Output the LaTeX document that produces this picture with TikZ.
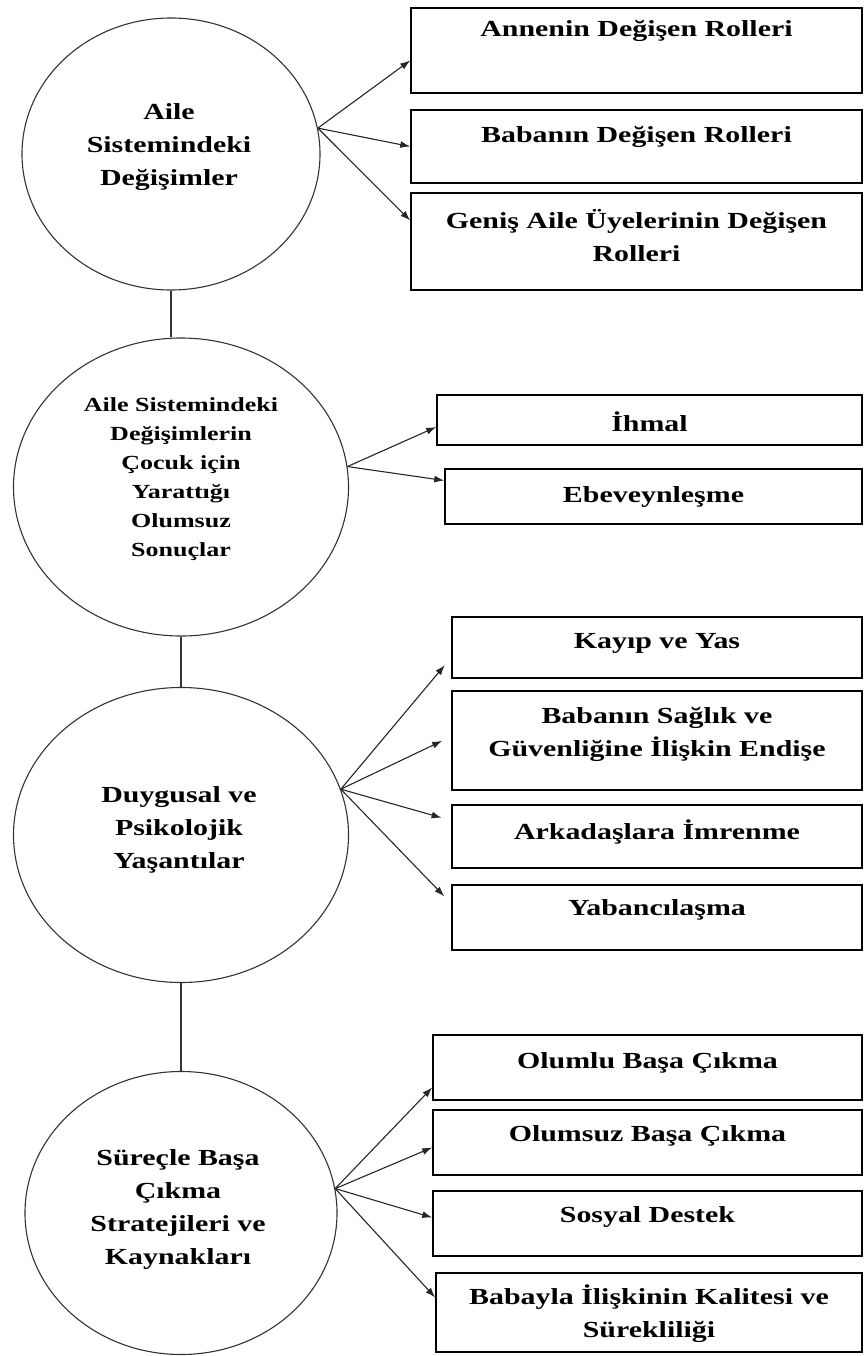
\documentclass[tikz,border=0pt]{standalone}
\usepackage{fontspec}
\setmainfont{Liberation Serif}[FakeStretch=1.3]
\usetikzlibrary{shapes.geometric,arrows.meta}

\begin{document}
\begin{tikzpicture}[x=1pt,y=-1pt,
  bubble/.style={draw=black!80,line width=1.1pt,ellipse,inner sep=0pt},
  box/.style={draw=black,line width=1.6pt,rectangle,inner sep=0pt},
  txt/.style={font=\fontsize{23}{33}\selectfont\bfseries,align=center,inner sep=0pt},
  smalltxt/.style={txt,font=\fontsize{20}{29}\selectfont\bfseries},
  link/.style={draw=black!80,line width=1.1pt},
  arr/.style={draw=black!85,line width=1.1pt,-{Latex[length=10pt,width=7pt]}}]
\useasboundingbox (0,0) rectangle (864,1356);
\node[bubble,minimum width=298pt,minimum height=272pt] (c1) at (171,154) {};
\node[txt] (t1) at (169,147) {Aile\\Sistemindeki\\Değişimler};
\node[bubble,minimum width=335pt,minimum height=298pt] (c2) at (181,487) {};
\node[smalltxt] (t2) at (181,479) {Aile Sistemindeki\\Değişimlerin\\Çocuk için\\Yarattığı\\Olumsuz\\Sonuçlar};
\node[bubble,minimum width=335pt,minimum height=295pt] (c3) at (181,835) {};
\node[txt] (t3) at (179,830) {Duygusal ve\\Psikolojik\\Yaşantılar};
\node[bubble,minimum width=312pt,minimum height=283pt] (c4) at (181,1213) {};
\node[txt] (t4) at (178,1209) {Süreçle Başa\\Çıkma\\Stratejileri ve\\Kaynakları};
\draw[link] (c1.south) -- (c1.south |- c2.north);
\draw[link] (c2.south) -- (c3.north);
\draw[link] (c3.south) -- (c4.north);
\node[box,minimum width=451pt,minimum height=85pt] (b1) at (636.5,50.5) {};
\node[txt] (l1) at (636.5,31) {Annenin Değişen Rolleri};
\node[box,minimum width=451pt,minimum height=73pt] (b2) at (636.5,146.5) {};
\node[txt] (l2) at (636.5,137) {Babanın Değişen Rolleri};
\node[box,minimum width=451pt,minimum height=97pt] (b3) at (636.5,241.5) {};
\node[txt] (l3) at (636.5,236) {Geniş Aile Üyelerinin Değişen\\Rolleri};
\node[box,minimum width=425pt,minimum height=50pt] (b4) at (649.5,420) {};
\node[txt] (l4) at (649.5,422) {İhmal};
\node[box,minimum width=417pt,minimum height=55pt] (b5) at (653.5,496.5) {};
\node[txt] (l5) at (653.5,497) {Ebeveynleşme};
\node[box,minimum width=410pt,minimum height=61pt] (b6) at (657,647.5) {};
\node[txt] (l6) at (657,643) {Kayıp ve Yas};
\node[box,minimum width=410pt,minimum height=99pt] (b7) at (657,740.5) {};
\node[txt] (l7) at (657,734) {Babanın Sağlık ve\\Güvenliğine İlişkin Endişe};
\node[box,minimum width=410pt,minimum height=63pt] (b8) at (657,836.5) {};
\node[txt] (l8) at (657,832) {Arkadaşlara İmrenme};
\node[box,minimum width=410pt,minimum height=65pt] (b9) at (657,917.5) {};
\node[txt] (l9) at (657,910) {Yabancılaşma};
\node[box,minimum width=429pt,minimum height=65pt] (b10) at (647.5,1067.5) {};
\node[txt] (l10) at (647.5,1063) {Olumlu Başa Çıkma};
\node[box,minimum width=429pt,minimum height=65pt] (b11) at (647.5,1142.5) {};
\node[txt] (l11) at (647.5,1136) {Olumsuz Başa Çıkma};
\node[box,minimum width=429pt,minimum height=65pt] (b12) at (647.5,1223.5) {};
\node[txt] (l12) at (647.5,1217) {Sosyal Destek};
\node[box,minimum width=426pt,minimum height=79pt] (b13) at (649,1312.5) {};
\node[txt] (l13) at (649,1314) {Babayla İlişkinin Kalitesi ve\\Sürekliliği};
\draw[arr] (c1.10) -- ([yshift=-10pt]b1.west);
\draw[arr] (c1.10) -- (b2.west);
\draw[arr] (c1.10) -- ([yshift=21pt]b3.west);
\draw[arr] (c2.7) -- ([yshift=-7pt]b4.west);
\draw[arr] (c2.7) -- ([yshift=16pt]b5.west);
\draw[arr,shorten >=10pt] (c3.16) -- ([yshift=-10pt]b6.west);
\draw[arr,shorten >=10pt] (c3.16) -- ([yshift=4pt]b7.west);
\draw[arr,shorten >=10pt] (c3.16) -- ([yshift=16pt]b8.west);
\draw[arr,shorten >=10pt] (c3.16) -- ([yshift=14pt]b9.west);
\draw[arr] (c4.9) -- ([yshift=-20pt]b10.west);
\draw[arr] (c4.9) -- ([yshift=-5pt]b11.west);
\draw[arr] (c4.9) -- ([yshift=6pt]b12.west);
\draw[arr] (c4.9) -- ([yshift=15pt]b13.west);
\end{tikzpicture}
\end{document}
